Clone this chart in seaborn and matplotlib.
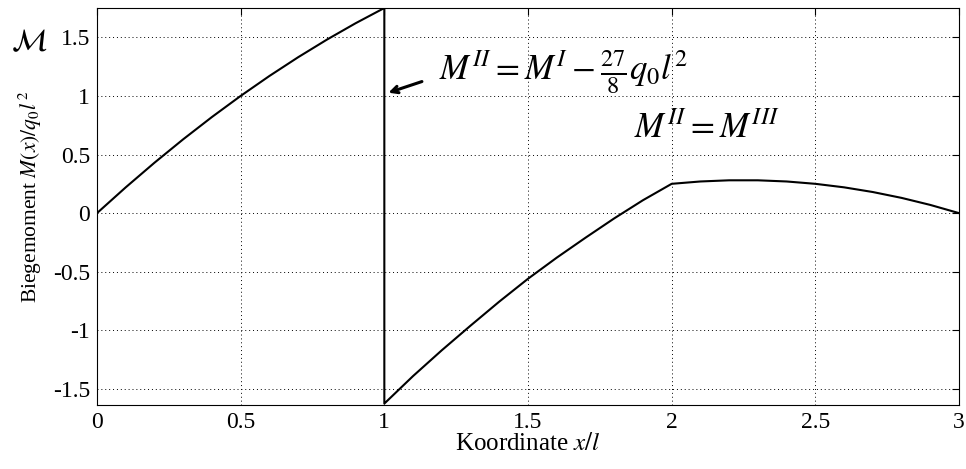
import matplotlib
matplotlib.use("Agg")
import matplotlib.pyplot as plt
import seaborn as sns
import pandas as pd

# Data (bending moment along the beam)
x_vals = [0.0, 0.1, 0.2, 0.3, 0.4, 0.5, 0.6, 0.7, 0.8, 0.9, 1.0,
          1.0, 1.1, 1.2, 1.3, 1.4, 1.5, 1.6, 1.7, 1.8, 1.9, 2.0,
          2.1, 2.2, 2.3, 2.4, 2.5, 2.6, 2.7, 2.8, 2.9, 3.0]
m_vals = [0.0, 0.22, 0.43, 0.63, 0.82, 1.0, 1.17, 1.33, 1.48, 1.62, 1.75,
          -1.625, -1.39, -1.17, -0.96, -0.755, -0.56, -0.38, -0.21, -0.045, 0.11, 0.25,
          0.27, 0.28, 0.28, 0.27, 0.25, 0.22, 0.18, 0.13, 0.07, 0.0]
x_ticks = [0, 0.5, 1, 1.5, 2, 2.5, 3]
x_tick_labels = ["0", "0.5", "1", "1.5", "2", "2.5", "3"]
y_ticks = [-1.5, -1, -0.5, 0, 0.5, 1, 1.5]
y_tick_labels = ["-1.5", "-1", "-0.5", "0", "0.5", "1", "1.5"]

sns.set_theme(style="white")
plt.rcParams["font.family"] = ["Liberation Serif", "DejaVu Serif"]
plt.rcParams["mathtext.fontset"] = "stix"

df = pd.DataFrame({"x": x_vals, "M": m_vals})

fig = plt.figure(figsize=(9.66, 4.69), dpi=100)
ax = fig.add_axes([97 / 966, 1 - 405 / 469, (959 - 97) / 966, (405 - 8) / 469])

sns.lineplot(data=df, x="x", y="M", sort=False, estimator=None, color="black",
             linewidth=1.5, ax=ax)

ax.set_xlim(0, 3)
ax.set_ylim(-1.637, 1.75)
ax.set_xticks(x_ticks)
ax.set_xticklabels(x_tick_labels)
ax.set_yticks(y_ticks)
ax.set_yticklabels(y_tick_labels)
ax.tick_params(direction="in", length=5, width=0.8, color="black", top=True, right=True,
               labelsize=17, labelcolor="black", pad=5)
ax.grid(True, linestyle=(0, (1, 3)), color="black", linewidth=0.7)
for s in ax.spines.values():
    s.set_color("black")
    s.set_linewidth(0.8)

ax.set_xlabel("Koordinate $x/l$", fontsize=18, color="black", labelpad=0)
ax.set_ylabel("Biegemoment $M(x)/q_0 l^{\\,2}$", fontsize=15.5, color="black")
ax.yaxis.set_label_coords(-0.062, 0.525)

# handwritten-style annotations
ax.annotate("", xy=(1.005, 1.02), xytext=(1.14, 1.13),
            arrowprops=dict(arrowstyle="->", color="black", lw=2.2))
ax.text(1.19, 1.2, r"$M^{II} = M^{I} - \frac{27}{8} q_0 l^2$", fontsize=25,
        color="black", va="center", ha="left")
ax.text(1.87, 0.72, r"$M^{II} = M^{III}$", fontsize=25, color="black",
        va="center", ha="left")
fig.text(0.03, 0.91, r"$\mathcal{M}$", fontsize=22, color="black",
         ha="center", va="center")

fig.savefig("out.png", dpi=100)
